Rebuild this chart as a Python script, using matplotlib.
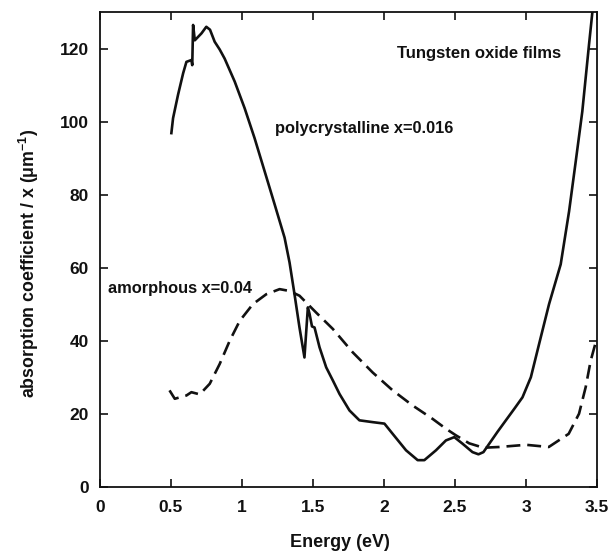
""" Absorption coefficient per intercalation level of tungsten oxide films.
"""
import matplotlib
matplotlib.use('Agg')
import matplotlib.pyplot as plt

# Polycrystalline film, x = 0.016
POLY_ENERGY = [0.503, 0.515, 0.55, 0.586, 0.609, 0.644, 0.650, 0.656, 0.668,
               0.715, 0.749, 0.775, 0.808, 0.843, 0.878, 0.949, 1.019, 1.089,
               1.16, 1.23, 1.30, 1.335, 1.37, 1.405, 1.44, 1.464, 1.476,
               1.493, 1.511, 1.546, 1.593, 1.64, 1.687, 1.757, 1.827, 1.921,
               2.003, 2.061, 2.155, 2.237, 2.284, 2.366, 2.436, 2.495, 2.553,
               2.623, 2.665, 2.70, 2.741, 2.80, 2.858, 2.92, 2.975, 3.034,
               3.092, 3.162, 3.244, 3.303, 3.35, 3.396, 3.443, 3.467, 3.48]
POLY_ALPHA = [96.9, 101.0, 107.4, 113.3, 116.4, 116.9, 115.5, 126.5, 122.3,
              124.2, 126.0, 125.2, 121.9, 119.8, 117.3, 111.0, 103.7, 95.5,
              86.4, 77.4, 68.3, 61.5, 52.8, 43.7, 35.5, 49.2, 47.4, 44.0,
              43.7, 38.3, 32.8, 29.2, 25.5, 21.0, 18.3, 17.8, 17.4, 14.6,
              10.1, 7.4, 7.4, 10.1, 12.8, 13.7, 11.9, 9.6, 9.0, 9.6, 11.9,
              15.2, 18.3, 21.6, 24.6, 30.1, 39.2, 50.1, 61.0, 75.5, 89.2,
              102.8, 121.0, 130.0, 134.0]

# Amorphous film, x = 0.04
AMOR_ENERGY = [0.49, 0.527, 0.609, 0.644, 0.703, 0.773, 0.843, 0.914, 0.984,
               1.077, 1.171, 1.265, 1.335, 1.405, 1.522, 1.64, 1.78, 1.92,
               2.061, 2.20, 2.342, 2.436, 2.506, 2.60, 2.70, 2.81, 3.00,
               3.16, 3.30, 3.373, 3.42, 3.455, 3.486]
AMOR_ALPHA = [26.5, 24.2, 25.1, 26.0, 25.4, 28.3, 33.7, 40.1, 45.5, 50.1,
              52.8, 54.2, 53.7, 52.4, 47.8, 43.3, 36.9, 31.4, 26.5, 22.4,
              18.7, 16.0, 14.2, 12.0, 10.8, 11.0, 11.6, 11.0, 14.6, 20.1,
              27.4, 34.6, 39.0]

X_TICKS = [0, 0.5, 1, 1.5, 2, 2.5, 3, 3.5]
X_TICK_LABELS = ['0', '0.5', '1', '1.5', '2', '2.5', '3', '3.5']
Y_TICKS = [0, 20, 40, 60, 80, 100, 120]

INK = '#111111'

plt.rcParams['font.family'] = ['Liberation Sans', 'DejaVu Sans']
plt.rcParams['font.weight'] = 'bold'
plt.rcParams['mathtext.fontset'] = 'custom'
plt.rcParams['mathtext.rm'] = 'Liberation Sans:bold'
plt.rcParams['mathtext.it'] = 'Liberation Sans:bold'
plt.rcParams['lines.scale_dashes'] = False

fig = plt.figure(figsize=(6.13, 5.53), dpi=100)
ax = fig.add_axes([0.163, 0.119, 0.811, 0.859])

ax.plot(POLY_ENERGY, POLY_ALPHA, color=INK, lw=1.9, solid_joinstyle='round')
ax.plot(AMOR_ENERGY, AMOR_ALPHA, color=INK, lw=1.9, dashes=(10, 5))

# Curve annotations
ax.text(2.09, 118.6, 'Tungsten oxide films', fontsize=12, fontweight='bold',
        color=INK, va='center', ha='left')
ax.text(1.23, 98.2, 'polycrystalline x=0.016', fontsize=11.8,
        fontweight='bold', color=INK, va='center', ha='left')
ax.text(0.06, 54.5, 'amorphous x=0.04', fontsize=11.8, fontweight='bold',
        color=INK, va='center', ha='left')

ax.set_xlim(0, 3.5)
ax.set_ylim(0, 130)
ax.set_xticks(X_TICKS)
ax.set_xticklabels(X_TICK_LABELS)
ax.set_yticks(Y_TICKS)

ax.tick_params(axis='both', direction='in', length=6, width=1.2,
               top=True, right=True, labelsize=12.5, colors=INK)
ax.tick_params(axis='x', pad=9)
ax.tick_params(axis='y', pad=8)
for spine in ax.spines.values():
    spine.set_linewidth(1.3)
    spine.set_color(INK)

ax.set_xlabel('Energy (eV)', fontsize=13, fontweight='bold', color=INK)
ax.set_ylabel('absorption coefficient / x (μm$^{-1}$)', fontsize=12.8,
              fontweight='bold', color=INK)
ax.xaxis.set_label_coords(0.483, -0.099)
ax.yaxis.set_label_coords(-0.119, 0.472)

plt.savefig('out.png', dpi=100)
